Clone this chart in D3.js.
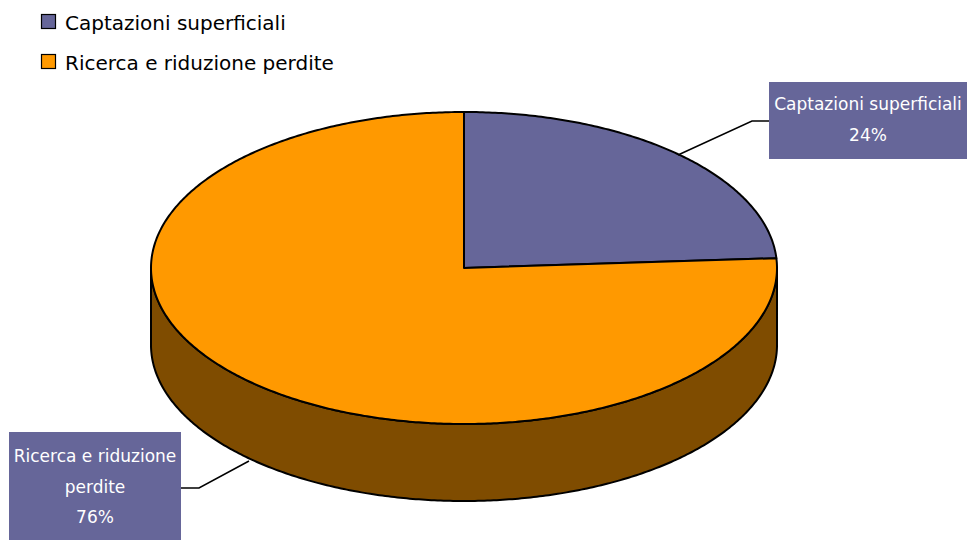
<!DOCTYPE html>
<html><head><meta charset="utf-8">
<script src="https://cdn.jsdelivr.net/npm/d3@7"></script>
<style>body{margin:0;background:#fff}svg{display:block}</style>
</head><body>
<svg id="c" width="971" height="542"></svg>
<script>
const categories = ["Captazioni superficiali", "Ricerca e riduzione perdite"];
const values = [24, 76];
const labelLines = [["Captazioni superficiali", "24%"], ["Ricerca e riduzione", "perdite", "76%"]];
const colors = ["#666699", "#FF9900"];
const sideColors = ["#33334D", "#7F4C00"];

const svg = d3.select("#c");
const cx = 464, cy = 268, rx = 313, ry = 156, depth = 77;
const font = "'DejaVu Sans', Verdana, sans-serif";

const pie = d3.pie().sort(null).value(d => d)(values);
const pt = (a, dy = 0) => [cx + rx * Math.sin(a), cy - ry * Math.cos(a) + dy];
function arcPts(a0, a1, dy = 0) {
  const n = Math.max(2, Math.ceil(Math.abs(a1 - a0) / 0.01));
  return d3.range(n + 1).map(i => pt(a0 + (a1 - a0) * i / n, dy));
}
const line = d3.line();

// side walls (front half only)
pie.forEach((p, i) => {
  const a0 = Math.max(p.startAngle, Math.PI / 2), a1 = Math.min(p.endAngle, 3 * Math.PI / 2);
  if (a1 <= a0) return;
  const pts = arcPts(a0, a1).concat(arcPts(a1, a0, depth));
  svg.append("path").attr("d", line(pts) + "Z")
    .attr("fill", sideColors[i]).attr("stroke", "#000").attr("stroke-width", 2).attr("stroke-linejoin", "round");
});

// top faces
pie.forEach((p, i) => {
  const pts = [[cx, cy]].concat(arcPts(p.startAngle, p.endAngle));
  svg.append("path").attr("d", line(pts) + "Z")
    .attr("fill", colors[i]).attr("stroke", "#000").attr("stroke-width", 2).attr("stroke-linejoin", "round");
});

// legend
categories.forEach((c, i) => {
  const y = 14 + i * 40;
  svg.append("rect").attr("x", 41.5).attr("y", y + 0.5).attr("width", 14).attr("height", 14)
    .attr("fill", colors[i]).attr("stroke", "#000").attr("stroke-width", 1.2);
  svg.append("text").attr("x", 65).attr("y", y + 16).attr("font-family", font).attr("font-size", 20)
    .attr("fill", "#000").text(c);
});

// data labels
const boxes = [
  {x: 769, y: 82, w: 198, h: 77, ty: 110, lead: [[678, 155], [752, 121], [769, 121]]},
  {x: 9, y: 432, w: 172, h: 108, ty: 462, lead: [[249, 461], [199, 488], [181, 488]]}
];
boxes.forEach((b, i) => {
  svg.append("path").attr("d", line(b.lead)).attr("fill", "none").attr("stroke", "#000").attr("stroke-width", 1.5);
  svg.append("rect").attr("x", b.x).attr("y", b.y).attr("width", b.w).attr("height", b.h).attr("fill", "#666699");
  labelLines[i].forEach((t, j) => {
    svg.append("text").attr("x", b.x + b.w / 2).attr("y", b.ty + j * 30.5).attr("text-anchor", "middle")
      .attr("font-family", font).attr("font-size", 17).attr("fill", "#fff").text(t);
  });
});
</script>
</body></html>
